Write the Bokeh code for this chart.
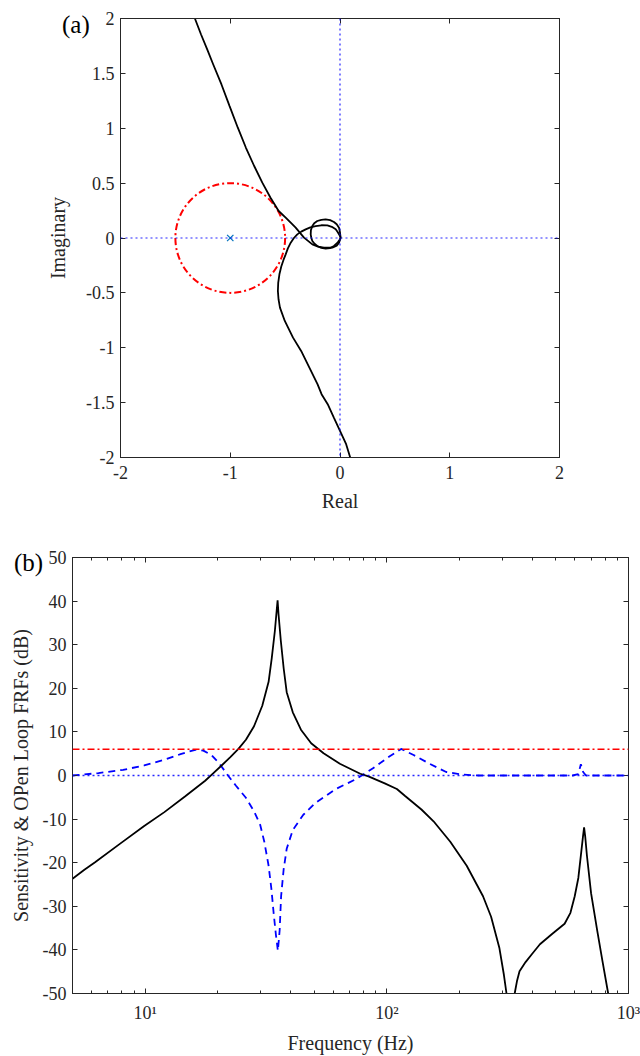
import numpy as np
from bokeh.plotting import figure
from bokeh.models import (Range1d, LinearAxis, LogAxis, Span, FixedTicker, Div,
                          CustomJSTickFormatter)
from bokeh.embed import file_html
from bokeh.resources import INLINE

# ---------------- data: panel (a) Nyquist ----------------
upper_re = [-1.322, -1.266, -1.210, -1.155, -1.080, -1.006, -0.931, -0.857, -0.782, -0.708,
            -0.633, -0.559, -0.495, -0.440, -0.404, -0.328, -0.252, -0.200, -0.146, -0.070,
            -0.030, -0.009, 0.006]
upper_im = [2.0, 1.854, 1.718, 1.581, 1.399, 1.202, 1.005, 0.822, 0.656, 0.504,
            0.367, 0.246, 0.185, 0.130, 0.094, 0.003, -0.058, -0.078, -0.088, -0.088,
            -0.070, -0.043, 0.0]
loop_re = [0.006, 0.0, -0.009, -0.030, -0.055, -0.090, -0.131, -0.170, -0.207, -0.235,
           -0.252, -0.265, -0.267, -0.262, -0.252, -0.232, -0.207, -0.170, -0.131,
           -0.090, -0.055, -0.020, 0.0, 0.006]
loop_im = [0.0, 0.050, 0.094, 0.125, 0.146, 0.163, 0.170, 0.166, 0.155, 0.135,
           0.109, 0.072, 0.033, 0.003, -0.027, -0.053, -0.073, -0.090, -0.097,
           -0.092, -0.073, -0.040, -0.012, 0.0]
lower_re = [0.006, 0.0, -0.020, -0.039, -0.075, -0.115, -0.170, -0.222, -0.270, -0.313,
            -0.353, -0.389, -0.420, -0.449, -0.475, -0.495, -0.515, -0.535, -0.552, -0.563,
            -0.566, -0.560, -0.547, -0.503, -0.428, -0.354, -0.279, -0.205, -0.168, -0.112,
            -0.056, 0.0, 0.056, 0.093]
lower_im = [0.0, 0.018, 0.052, 0.079, 0.102, 0.115, 0.116, 0.109, 0.097, 0.079,
            0.058, 0.033, 0.000, -0.043, -0.095, -0.149, -0.200, -0.260, -0.331, -0.410,
            -0.483, -0.560, -0.634, -0.756, -0.908, -1.029, -1.181, -1.332, -1.423, -1.514,
            -1.636, -1.757, -1.879, -2.0]
crit_re, crit_im = [-1.0], [0.0]
circle_re, circle_im, circle_r = [-1.0], [0.0], 0.5

x_ticks_a = [-2, -1, 0, 1, 2]
y_ticks_a = [-2, -1.5, -1, -0.5, 0, 0.5, 1, 1.5, 2]

# ---------------- data: panel (b) FRFs ----------------
ol_f1 = [5.0, 5.6, 6.2, 7.8, 9.9, 12.0, 14.6, 17.7, 19.1, 20.7, 22.5, 24.3, 26.1, 28.2,
         30.5, 32.4, 33.4, 34.4, 35.0, 35.3, 35.6, 36.4, 37.4, 38.5, 40.8, 44.1, 48.6,
         54.7, 63.9, 77.6, 83.9, 98.0, 110.0, 119.0, 123.9, 139.0, 156.0, 183.0, 214.0,
         250.0, 270.0, 292.0, 305.0, 312.7, 318.0]
ol_db1 = [-23.7, -21.6, -19.9, -15.8, -11.6, -8.4, -4.8, -1.2, 0.5, 2.3, 4.2, 6.1, 8.2,
          11.3, 16.0, 21.5, 27.0, 33.2, 37.9, 40.2, 37.1, 30.9, 24.6, 19.1, 14.5, 10.5,
          7.4, 5.1, 2.7, 0.4, -0.2, -1.8, -3.1, -4.7, -5.5, -7.8, -10.5, -15.2, -20.7,
          -27.7, -32.4, -39.5, -45.7, -50.0, -60.0]
ol_f2 = [333.0, 338.0, 346.0, 354.0, 375.0, 398.0, 430.0, 484.0, 544.0, 575.0, 599.0,
         620.0, 635.0, 648.0, 655.0, 662.0, 673.0, 700.0, 742.0, 780.0, 824.0, 850.0]
ol_db2 = [-60.0, -50.0, -47.0, -44.9, -42.8, -41.0, -38.7, -36.3, -34.0, -31.5, -27.7,
          -23.5, -18.4, -14.0, -11.9, -14.0, -18.4, -27.0, -35.5, -42.5, -50.0, -57.0]
s_f = [5.0, 6.4, 8.1, 9.9, 12.0, 14.0, 16.1, 17.4, 18.8, 20.3, 22.0, 23.7, 26.1, 28.2,
       29.9, 31.1, 32.4, 33.3, 34.0, 34.7, 35.4, 36.0, 36.5, 37.4, 38.5, 40.8, 45.1,
       50.6, 61.5, 74.7, 87.3, 102.0, 114.6, 129.0, 150.0, 176.0, 206.0, 240.0,
       587.0, 620.0, 635.0, 649.0, 667.0, 1000.0]
s_db = [0.0, 0.55, 1.3, 2.3, 3.6, 4.9, 5.9, 5.7, 4.7, 2.7, 0.0, -2.3, -5.1, -8.2,
        -11.3, -15.2, -20.7, -26.2, -31.6, -36.3, -40.2, -35.5, -27.7, -21.5, -16.8,
        -12.5, -9.0, -6.3, -3.1, -0.8, 1.6, 4.3, 6.1, 4.7, 2.7, 0.8, 0.2, 0.0,
        0.0, 0.3, 2.6, 0.8, 0.0, 0.0]
margin_db = 6.0
x_ticks_b = [10, 100, 1000]
x_tick_labels_b = ["10\u00b9", "10\u00b2", "10\u00b3"]
x_minor_b = [5, 6, 7, 8, 9, 20, 30, 40, 50, 60, 70, 80, 90, 200, 300, 400, 500, 600, 700, 800, 900]
y_ticks_b = [-50, -40, -30, -20, -10, 0, 10, 20, 30, 40, 50]
panel_tags = ["(a)", "(b)"]

FONT = "'Liberation Serif', serif"
AX = "#262626"


def style_axis(ax, labels=True, minor=False, std=6, lab_std=12):
    ax.major_tick_in = 5
    ax.major_tick_out = 0
    ax.minor_tick_in = 3 if minor else 0
    ax.minor_tick_out = 0
    ax.axis_line_color = AX
    ax.major_tick_line_color = AX
    ax.minor_tick_line_color = AX if minor else None
    ax.major_label_text_font = FONT
    ax.major_label_text_color = AX
    ax.major_label_text_font_size = "18px"
    ax.axis_label_text_font = FONT
    ax.axis_label_text_font_size = "20px"
    ax.axis_label_text_font_style = "normal"
    ax.axis_label_text_color = AX
    ax.axis_label_standoff = lab_std
    ax.major_label_standoff = std
    if not labels:
        ax.formatter = CustomJSTickFormatter(code="return ''")
        ax.major_label_standoff = 0


def fmt(v):
    return "%g" % v


# ---------------- panel (a) ----------------
p1 = figure(width=640, height=528, x_range=Range1d(-2, 2), y_range=Range1d(-2, 2),
            output_backend="svg", toolbar_location=None,
            min_border_left=120, min_border_right=81, min_border_top=18, min_border_bottom=71)
p1.grid.visible = False
p1.outline_line_color = AX
p1.xaxis.ticker = FixedTicker(ticks=x_ticks_a)
p1.yaxis.ticker = FixedTicker(ticks=y_ticks_a)
p1.xaxis.major_label_overrides = {float(t): fmt(t) for t in x_ticks_a}
p1.yaxis.major_label_overrides = {float(t): fmt(t) for t in y_ticks_a}
p1.xaxis.axis_label = "Real"
p1.yaxis.axis_label = "Imaginary"
for ax in p1.xaxis:
    style_axis(ax, std=8, lab_std=8)
for ax in p1.yaxis:
    style_axis(ax, std=6, lab_std=14)
ax_t = LinearAxis(ticker=FixedTicker(ticks=x_ticks_a))
style_axis(ax_t, labels=False)
p1.add_layout(ax_t, "above")
ax_r = LinearAxis(ticker=FixedTicker(ticks=y_ticks_a))
style_axis(ax_r, labels=False)
p1.add_layout(ax_r, "right")

p1.add_layout(Span(location=0, dimension="width", line_color="blue", line_dash="2 3", line_width=1.2,
                   line_alpha=0.85))
p1.add_layout(Span(location=0, dimension="height", line_color="blue", line_dash="2 3", line_width=1.2,
                   line_alpha=0.85))

p1.circle(x=circle_re, y=circle_im, radius=circle_r, fill_color=None, line_color="red",
          line_width=2, line_dash="7 3 2 3")
p1.line(upper_re, upper_im, line_color="black", line_width=1.8)
p1.line(loop_re, loop_im, line_color="black", line_width=1.8)
p1.line(lower_re, lower_im, line_color="black", line_width=1.8)
p1.scatter(crit_re, crit_im, marker="x", size=9, line_color="#0072BD", line_width=1.2)

# ---------------- panel (b) ----------------
p2 = figure(width=640, height=528, x_axis_type="log", x_range=Range1d(5, 1000),
            y_range=Range1d(-50, 50), output_backend="svg", toolbar_location=None,
            min_border_left=72, min_border_right=12, min_border_top=29, min_border_bottom=63)
p2.grid.visible = False
p2.outline_line_color = AX
p2.xaxis.ticker = FixedTicker(ticks=x_ticks_b, minor_ticks=x_minor_b)
p2.yaxis.ticker = FixedTicker(ticks=y_ticks_b)
p2.xaxis.major_label_overrides = {float(t): l for t, l in zip(x_ticks_b, x_tick_labels_b)}
p2.yaxis.major_label_overrides = {float(t): fmt(t) for t in y_ticks_b}
p2.xaxis.axis_label = "Frequency (Hz)"
p2.yaxis.axis_label = "Sensitivity & OPen Loop FRFs (dB)"
for ax in p2.xaxis:
    style_axis(ax, minor=True, std=9, lab_std=6)
for ax in p2.yaxis:
    style_axis(ax, std=6, lab_std=8)
ax_t2 = LogAxis(ticker=FixedTicker(ticks=x_ticks_b, minor_ticks=x_minor_b))
style_axis(ax_t2, labels=False, minor=True)
p2.add_layout(ax_t2, "above")
ax_r2 = LinearAxis(ticker=FixedTicker(ticks=y_ticks_b))
style_axis(ax_r2, labels=False)
p2.add_layout(ax_r2, "right")

p2.add_layout(Span(location=0, dimension="width", line_color="blue", line_dash="2 3", line_width=1.4,
                   line_alpha=0.85))
p2.add_layout(Span(location=margin_db, dimension="width", line_color="red", line_dash="7 3 2 3",
                   line_width=1.5))
p2.line(s_f, s_db, line_color="blue", line_width=1.8, line_dash="7 5")
p2.line(ol_f1, ol_db1, line_color="black", line_width=1.8)
p2.line(ol_f2, ol_db2, line_color="black", line_width=1.8)

# ---------------- panel tags "(a)" / "(b)" ----------------
tag_style = ("position:absolute;font-family:'Liberation Serif',serif;font-size:25px;"
             "line-height:28px;color:black;white-space:nowrap;")
tags = Div(text=(f'<div style="{tag_style}left:57px;top:6px;">{panel_tags[0]}</div>'
                 f'<div style="{tag_style}left:9px;top:544px;">{panel_tags[1]}</div>'),
           width=640, height=1056,
           styles={"position": "absolute", "left": "0px", "top": "0px", "overflow": "visible"})

open("out.html", "w").write(file_html([p1, p2, tags], INLINE))
